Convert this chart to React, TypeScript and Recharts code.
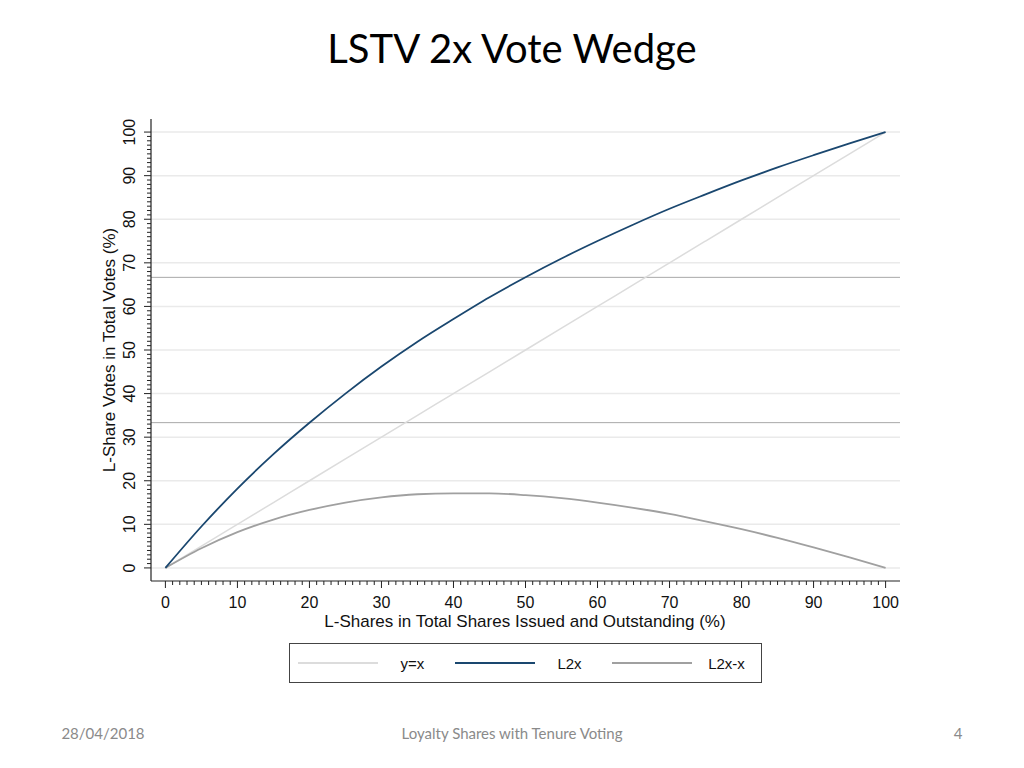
import React from 'react';
import { LineChart, Line, XAxis, YAxis, ReferenceLine } from 'recharts';

const shares = [0, 5, 10, 15, 20, 25, 30, 35, 40, 45, 50, 55, 60, 65, 70, 75, 80, 85, 90, 95, 100];
const identity = [0, 5, 10, 15, 20, 25, 30, 35, 40, 45, 50, 55, 60, 65, 70, 75, 80, 85, 90, 95, 100];
const l2x = [0, 9.5, 18.2, 26.1, 33.3, 40, 46.2, 51.9, 57.1, 62.1, 66.7, 71, 75, 78.8, 82.4, 85.7, 88.9, 91.9, 94.7, 97.4, 100];
const wedge = [0, 4.5, 8.2, 11.1, 13.3, 15, 16.2, 16.9, 17.1, 17.1, 16.7, 16, 15, 13.8, 12.4, 10.7, 8.9, 6.9, 4.7, 2.4, 0];
const gridLevels = [0, 10, 20, 30, 40, 50, 60, 70, 80, 90, 100];
const thirds = [33.33, 66.67];
const allTicks = Array.from({ length: 101 }, (_, i) => i);

const data = shares.map((x, i) => ({ x, yx: identity[i], l2x: l2x[i], wedge: wedge[i] }));

const AXIS_FONT = "'Liberation Sans', Arial, sans-serif";
const COL_ID = '#dcdcdc';
const COL_L2X = '#1a476f';
const COL_WEDGE = '#a0a0a0';

const XTick = (props: any) => {
  const { x, y, payload } = props;
  const major = payload.value % 10 === 0;
  return (
    <g>
      <line x1={x} y1={y} x2={x} y2={y + (major ? 7 : 4)} stroke="#222" strokeWidth={1} />
      {major && (
        <text x={x} y={y + 27} textAnchor="middle" fontSize={16} fill="#111" fontFamily={AXIS_FONT}>
          {payload.value}
        </text>
      )}
    </g>
  );
};

const YTick = (props: any) => {
  const { x, y, payload } = props;
  const major = payload.value % 10 === 0;
  return (
    <g>
      <line x1={x} y1={y} x2={x - (major ? 7 : 4)} y2={y} stroke="#222" strokeWidth={1} />
      {major && (
        <text
          x={x - 16}
          y={y}
          textAnchor="middle"
          fontSize={16}
          fill="#111"
          fontFamily={AXIS_FONT}
          transform={`rotate(-90, ${x - 16}, ${y})`}
        >
          {payload.value}
        </text>
      )}
    </g>
  );
};

const LegendBox = () => {
  const items = [
    { label: 'y=x', color: COL_ID },
    { label: 'L2x', color: COL_L2X },
    { label: 'L2x-x', color: COL_WEDGE },
  ];
  return (
    <div
      style={{
        position: 'absolute',
        left: 289,
        top: 643,
        width: 471,
        height: 38,
        border: '1.5px solid #444',
        display: 'flex',
        alignItems: 'center',
        fontFamily: AXIS_FONT,
        fontSize: 15,
        color: '#111',
      }}
    >
      {items.map((it) => (
        <div key={it.label} style={{ display: 'flex', alignItems: 'center', width: 157 }}>
          <div style={{ marginLeft: 8, width: 80, height: 2, background: it.color }} />
          <div style={{ width: 69, textAlign: 'center' }}>{it.label}</div>
        </div>
      ))}
    </div>
  );
};

export default function App() {
  return (
    <div style={{ position: 'absolute', left: 0, top: 0, width: 1024, height: 768, background: '#fff' }}>
      <div
        style={{
          position: 'absolute',
          top: 24,
          left: 0,
          width: 1024,
          textAlign: 'center',
          fontFamily: "Lato, 'Open Sans', sans-serif",
          fontSize: 40,
          color: '#000',
        }}
      >
        LSTV 2x Vote Wedge
      </div>

      <LineChart width={1024} height={768} data={data} margin={{ top: 119, right: 124, bottom: 157, left: 91 }}>
        {gridLevels.map((g) => (
          <ReferenceLine key={'g' + g} y={g} stroke="#eaeaea" strokeWidth={1.5} />
        ))}
        {thirds.map((t) => (
          <ReferenceLine key={'t' + t} y={t} stroke="#a8a8a8" strokeWidth={1} />
        ))}
        <XAxis
          dataKey="x"
          type="number"
          domain={[-2, 102]}
          ticks={allTicks}
          interval={0}
          tickSize={0}
          tickMargin={0}
          tickLine={false}
          tick={<XTick />}
          axisLine={{ stroke: '#222', strokeWidth: 1.2 }}
          height={30}
          allowDataOverflow
        />
        <YAxis
          type="number"
          domain={[-3, 103]}
          ticks={allTicks}
          interval={0}
          tickSize={0}
          tickMargin={0}
          tickLine={false}
          tick={<YTick />}
          axisLine={{ stroke: '#222', strokeWidth: 1.2 }}
          width={60}
          allowDataOverflow
        />
        <Line type="monotone" dataKey="yx" stroke={COL_ID} strokeWidth={1.5} dot={false} isAnimationActive={false} />
        <Line type="monotone" dataKey="wedge" stroke={COL_WEDGE} strokeWidth={1.8} dot={false} isAnimationActive={false} />
        <Line type="monotone" dataKey="l2x" stroke={COL_L2X} strokeWidth={1.8} dot={false} isAnimationActive={false} />
      </LineChart>

      <LegendBox />

      <div
        style={{
          position: 'absolute',
          left: 525,
          top: 622,
          transform: 'translate(-50%, -50%)',
          whiteSpace: 'nowrap',
          fontFamily: AXIS_FONT,
          fontSize: 17,
          color: '#111',
        }}
      >
        L-Shares in Total Shares Issued and Outstanding (%)
      </div>
      <div
        style={{
          position: 'absolute',
          left: 110,
          top: 350,
          transform: 'translate(-50%, -50%) rotate(-90deg)',
          whiteSpace: 'nowrap',
          fontFamily: AXIS_FONT,
          fontSize: 17,
          color: '#111',
        }}
      >
        L-Share Votes in Total Votes (%)
      </div>

      {[
        { text: '28/04/2018', x: 103 },
        { text: 'Loyalty Shares with Tenure Voting', x: 512 },
        { text: '4', x: 958 },
      ].map((f) => (
        <div
          key={f.text}
          style={{
            position: 'absolute',
            left: f.x,
            top: 733,
            transform: 'translate(-50%, -50%)',
            whiteSpace: 'nowrap',
            fontFamily: "Lato, 'Open Sans', sans-serif",
            fontSize: 15,
            color: '#8a8a8a',
          }}
        >
          {f.text}
        </div>
      ))}
    </div>
  );
}
